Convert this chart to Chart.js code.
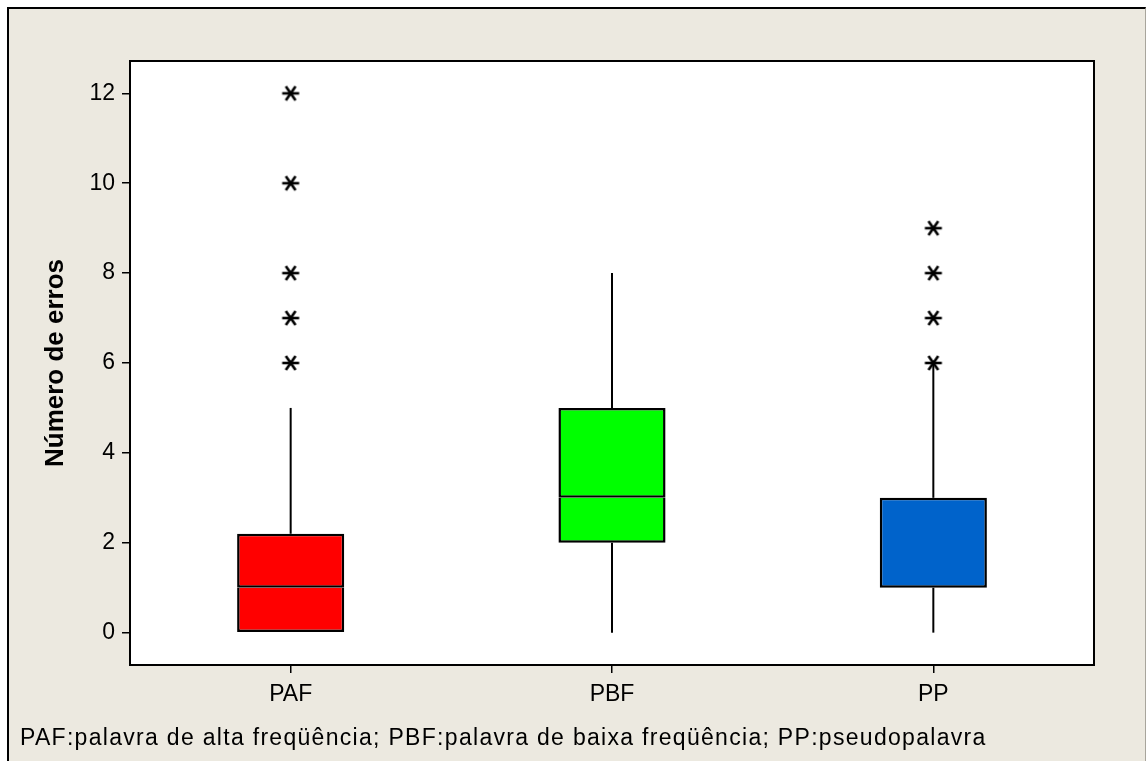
<!DOCTYPE html>
<html>
<head>
<meta charset="utf-8">
<script src="https://cdn.jsdelivr.net/npm/chart.js@4.4.1/dist/chart.umd.min.js"></script>
<style>
  html, body { margin: 0; padding: 0; background: #fff; }
  #frame {
    position: absolute; left: 7px; top: 7px; width: 1139px; height: 756px;
    background: #ECE9E0; box-sizing: border-box;
    border-top: 2px solid #000; border-left: 2px solid #000;
    border-right: 1px solid #a8a59c; border-bottom: 1px solid #a8a59c;
  }
  #wrap { position: absolute; left: 0; top: 0; width: 1148px; height: 761px; }
  #note {
    position: absolute; left: 20px; top: 724px;
    font: 23px "Liberation Sans", Arial, sans-serif; color: #000;
    letter-spacing: 1.3px; white-space: nowrap;
  }
</style>
</head>
<body>
<div id="frame"></div>
<div id="wrap"><canvas id="chart" width="1148" height="761"></canvas></div>
<div id="note">PAF:palavra de alta freqüência; PBF:palavra de baixa freqüência; PP:pseudopalavra</div>
<script>
const categories = ["PAF", "PBF", "PP"];
const q1 = [0, 2, 1];
const medians = [1, 3, 1];
const q3 = [2.2, 5, 3];
const whiskerLow = [0, 0, 0];
const whiskerHigh = [5, 8, 6];
const outliers = [[6, 7, 8, 10, 12], [], [6, 7, 8, 9]];
const boxColors = ["#FF0000", "#00FF00", "#0063CB"];
const yTicks = [0, 2, 4, 6, 8, 10, 12];

// asterisk symbol used for outliers
function makeAsterisk() {
  const c = document.createElement("canvas");
  c.width = 20; c.height = 20;
  const ctx = c.getContext("2d");
  ctx.strokeStyle = "#000";
  ctx.lineWidth = 2.6;
  const cx = 10, cy = 10, r = 8.5;
  [0, 55, -55].forEach(deg => {
    const a = deg * Math.PI / 180;
    ctx.beginPath();
    ctx.moveTo(cx - r * Math.cos(a), cy - r * Math.sin(a));
    ctx.lineTo(cx + r * Math.cos(a), cy + r * Math.sin(a));
    ctx.stroke();
  });
  return c;
}

const boxBase = {
  type: "bar",
  backgroundColor: boxColors,
  borderColor: "#000",
  borderSkipped: false,
  grouped: false,
  barPercentage: 1 / 3,
  categoryPercentage: 1,
  order: 1,
};

// lower half has no top edge; the upper half's bottom edge is the median line
const datasets = [
  {
    ...boxBase, label: "lower",
    data: categories.map((c, i) => [q1[i], medians[i]]),
    borderWidth: { left: 2.5, right: 2.5, bottom: 2.5, top: 0 },
  },
  {
    ...boxBase, label: "upper",
    data: categories.map((c, i) => [medians[i], q3[i]]),
    borderWidth: { left: 2.5, right: 2.5, top: 2.5, bottom: 2.5 },
  },
];

categories.forEach((cat, i) => {
  const segs = [[q3[i], whiskerHigh[i]], [whiskerLow[i], q1[i]]];
  segs.forEach(([a, b]) => {
    if (a === b) return;
    datasets.push({
      type: "line",
      data: [{ x: cat, y: a }, { x: cat, y: b }],
      borderColor: "#000",
      borderWidth: 2,
      pointRadius: 0,
      order: 2,
    });
  });
});

const star = makeAsterisk();
datasets.push({
  type: "line",
  showLine: false,
  data: categories.flatMap((cat, i) => outliers[i].map(v => ({ x: cat, y: v }))),
  pointStyle: star,
  pointRadius: 9,
  order: 0,
});

const plotFrame = {
  id: "plotFrame",
  beforeDraw(chart) {
    const { ctx, chartArea: a } = chart;
    ctx.save();
    ctx.fillStyle = "#fff";
    ctx.fillRect(a.left, a.top, a.right - a.left, a.bottom - a.top);
    ctx.restore();
  },
  afterDraw(chart) {
    const { ctx, chartArea: a } = chart;
    ctx.save();
    ctx.strokeStyle = "#000";
    ctx.lineWidth = 2;
    ctx.strokeRect(a.left, a.top, a.right - a.left, a.bottom - a.top);
    ctx.restore();
  },
};

new Chart(document.getElementById("chart"), {
  type: "bar",
  data: { labels: categories, datasets },
  plugins: [plotFrame],
  options: {
    responsive: false,
    animation: false,
    layout: { padding: { left: 0, right: 54, top: 61, bottom: 46 } },
    plugins: { legend: { display: false }, tooltip: { enabled: false } },
    scales: {
      x: {
        type: "category",
        offset: true,
        grid: { drawOnChartArea: false, offset: false, tickLength: 8, color: "#000", lineWidth: 1.5 },
        border: { display: true, color: "#000", width: 2 },
        ticks: { color: "#000", padding: 8, font: { family: "Liberation Sans", size: 23 } },
        afterFit(scale) { scale.height = 50; },
      },
      y: {
        min: -0.72,
        max: 12.72,
        grid: { drawOnChartArea: false, tickLength: 8, color: "#000", lineWidth: 1.5 },
        border: { display: true, color: "#000", width: 2 },
        ticks: { color: "#000", padding: 7, font: { family: "Liberation Sans", size: 23 } },
        afterBuildTicks(scale) { scale.ticks = yTicks.map(v => ({ value: v })); },
        title: {
          display: true,
          text: "Número de erros",
          color: "#000",
          font: { family: "Liberation Sans", size: 26, weight: "bold" },
          padding: { top: 40, bottom: 0 },
        },
        afterFit(scale) { scale.width = 130; },
      },
    },
  },
});
</script>
</body>
</html>
